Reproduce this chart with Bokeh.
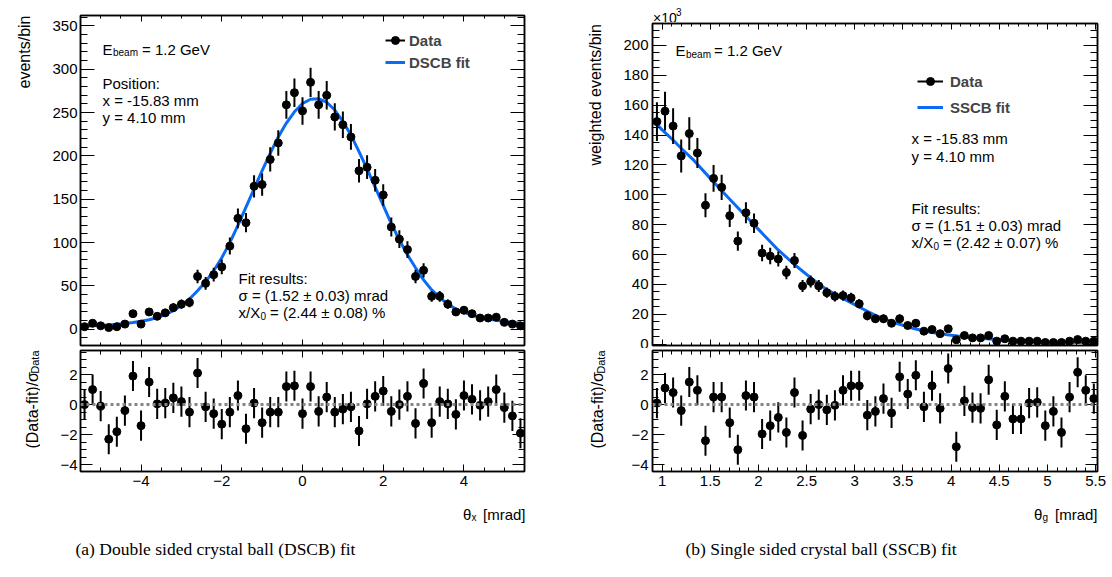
import math
from bokeh.plotting import figure
from bokeh.models import (ColumnDataSource, Range1d, LinearAxis, Label, Legend, LegendItem,
                          Span, SingleIntervalTicker, CustomJSTickFormatter, CustomLabelingPolicy)
from bokeh.layouts import row, column
from bokeh.embed import file_html
from bokeh.resources import INLINE

# ---------------- data: (a) DSCB fit ----------------
theta_x = [-5.4, -5.2, -5.0, -4.8, -4.6, -4.4, -4.2, -4.0, -3.8, -3.6, -3.4, -3.2, -3.0, -2.8,
           -2.6, -2.4, -2.2, -2.0, -1.8, -1.6, -1.4, -1.2, -1.0, -0.8, -0.6, -0.4, -0.2, 0.0,
           0.2, 0.4, 0.6, 0.8, 1.0, 1.2, 1.4, 1.6, 1.8, 2.0, 2.2, 2.4, 2.6, 2.8, 3.0, 3.2,
           3.4, 3.6, 3.8, 4.0, 4.2, 4.4, 4.6, 4.8, 5.0, 5.2, 5.4]
counts_a = [3, 7, 4, 2, 3, 6, 18, 6, 20, 15, 19, 25, 29, 31,
            61, 53, 63, 72, 96, 128, 123, 165, 167, 196, 215, 259, 273, 252,
            285, 259, 270, 245, 236, 222, 183, 187, 172, 155, 118, 104, 92, 61, 68, 38,
            38, 29, 20, 22, 18, 13, 13, 14, 8, 6, 4]
err_a = [1.7, 2.6, 2.0, 1.4, 1.7, 2.4, 4.2, 2.4, 4.5, 3.9, 4.4, 5.0, 5.4, 5.6,
         7.8, 7.3, 7.9, 8.5, 9.8, 11.3, 11.1, 12.8, 12.9, 14.0, 14.7, 16.1, 16.5, 15.9,
         16.9, 16.1, 16.4, 15.7, 15.4, 14.9, 13.5, 13.7, 13.1, 12.4, 10.9, 10.2, 9.6, 7.8, 8.2, 6.2,
         6.2, 5.4, 4.5, 4.7, 4.2, 3.6, 3.6, 3.7, 2.8, 2.4, 2.0]
fit_a_x = [-5.5, -5.4, -5.2, -5.0, -4.8, -4.6, -4.4, -4.2, -4.0, -3.8, -3.6, -3.4, -3.2, -3.0,
           -2.8, -2.6, -2.4, -2.2, -2.0, -1.8, -1.6, -1.4, -1.2, -1.0, -0.8, -0.6, -0.4, -0.2,
           0.0, 0.2, 0.4, 0.6, 0.8, 1.0, 1.2, 1.4, 1.6, 1.8, 2.0, 2.2, 2.4, 2.6, 2.8, 3.0,
           3.2, 3.4, 3.6, 3.8, 4.0, 4.2, 4.4, 4.6, 4.8, 5.0, 5.2, 5.4, 5.5]
fit_a_y = [3.3, 3.5, 4.0, 4.5, 5.1, 5.8, 6.7, 7.8, 9.2, 11.0, 13.5, 17.0, 21.5, 27.5,
           35.0, 44.5, 55.0, 67.5, 82.5, 100.0, 120.0, 141.0, 162.0, 183.0, 203.0, 222.0, 238.0, 251.0,
           260.5, 265.5, 266.0, 262.0, 253.0, 240.0, 224.0, 205.0, 185.0, 164.0, 143.0, 122.0, 103.0, 86.0,
           71.0, 57.0, 45.5, 36.5, 29.0, 23.5, 19.5, 16.3, 13.8, 11.9, 10.3, 9.0, 8.0, 7.1, 6.7]
pull_a = [0.0, 1.0, -0.1, -2.3, -1.8, -0.4, 1.9, -1.4, 1.5, 0.05, 0.1, 0.45, 0.2, -0.5,
          2.1, -0.15, -0.6, -1.3, -0.5, 0.6, -1.6, 0.1, -1.2, -0.5, -0.5, 1.2, 1.25, -0.6,
          1.2, -0.45, 0.5, -0.5, -0.3, -0.15, -1.75, 0.05, 0.55, 0.9, -0.45, 0.0, 0.55, -1.25, 1.4, -1.2,
          0.2, 0.05, -0.65, 0.6, 0.35, -0.05, 0.2, 1.0, -0.2, -0.75, -1.9]

# ---------------- data: (b) SSCB fit ----------------
theta_g = [0.946, 1.030, 1.114, 1.198, 1.282, 1.366, 1.450, 1.534, 1.618, 1.702, 1.786, 1.870,
           1.954, 2.038, 2.122, 2.206, 2.290, 2.374, 2.458, 2.542, 2.626, 2.710, 2.794, 2.878,
           2.962, 3.046, 3.130, 3.214, 3.298, 3.382, 3.466, 3.550, 3.634, 3.718, 3.802, 3.886,
           3.970, 4.054, 4.138, 4.222, 4.306, 4.390, 4.474, 4.558, 4.642, 4.726, 4.810, 4.894,
           4.978, 5.062, 5.146, 5.230, 5.314, 5.398, 5.482]
counts_b = [149, 156, 146, 126, 141, 128, 93, 111, 105, 86, 69, 88,
            81, 61, 59, 57, 48, 56, 39, 42, 39, 34.5, 32, 32.5,
            31, 27, 19, 17, 17, 14, 17, 12.5, 14, 8.7, 9.8, 7,
            10.3, 2.9, 5.8, 4.2, 4.2, 5.8, 2, 3.6, 2, 2, 2, 2,
            1.1, 1.1, 1.1, 2, 3.1, 2, 2]
err_b = [13, 13, 12, 11, 11, 10, 8, 9, 8.5, 7.5, 6.5, 7,
         6.5, 5.5, 5.5, 5, 4.5, 5, 4, 4, 4, 3.5, 3.5, 3.5,
         3.5, 3, 3, 2.8, 2.8, 2.5, 2.8, 2.3, 2.5, 1.8, 2, 1.6,
         1.7, 0.8, 1.3, 1.1, 1.1, 1.3, 0.7, 1, 0.7, 0.7, 0.7, 0.7,
         0.5, 0.5, 0.5, 0.7, 0.9, 0.7, 0.7]
fit_b_x = [0.94, 1.0, 1.1, 1.2, 1.33, 1.5, 1.68, 1.85, 2.02, 2.19, 2.37, 2.54, 2.71, 2.85, 3.0,
           3.1, 3.21, 3.3, 3.44, 3.61, 3.79, 3.96, 4.13, 4.3, 4.48, 4.65, 4.83, 5.0, 5.17, 5.34, 5.48]
fit_b_y = [147.5, 143.5, 137.5, 131.0, 123.0, 111.0, 98.5, 87.0, 75.5, 64.0, 53.5, 44.5, 36.5, 31.5, 26.5,
           23.0, 19.5, 17.0, 13.8, 10.5, 8.0, 6.3, 5.0, 4.0, 3.1, 2.5, 2.0, 1.6, 1.3, 1.1, 1.0]
pull_b = [0.1, 1.1, 0.8, -0.4, 1.5, 0.95, -2.4, 0.5, 0.5, -1.2, -3.0, 0.6,
          0.5, -1.95, -1.4, -0.85, -1.85, 0.8, -2.05, -0.3, 0.0, -0.35, -0.05, 0.95,
          1.25, 1.25, -0.7, -0.45, 0.4, -0.55, 1.85, 0.7, 1.95, -0.15, 1.25, -0.25,
          2.4, -2.8, 0.25, -0.2, -0.25, 1.65, -1.35, 0.55, -0.95, -0.95, 0.1, 0.15,
          -1.4, -0.45, -1.85, 0.5, 2.15, 0.95, 0.4]
pull_err = 1.0

SANS = "Liberation Sans"
SERIF = "Liberation Serif"
BLUE = "#0a6cf5"

FMT_CODE = """
const v = Math.round(tick*1000)/1000;
if (v === 0) { return "0"; }
const s = String(Math.abs(v));
return v < 0 ? "\\u2212" + s : s;
"""
NO_LABELS = """
try { for (let i = 0; i < indices.size; i++) { indices.unset(i) } } catch (e) {}
return indices
"""


def style_axis(ax, tin, tmin, labels, standoff=4):
    ax.major_tick_in = tin
    ax.major_tick_out = 0
    ax.minor_tick_in = tmin
    ax.minor_tick_out = 0
    ax.axis_line_width = 1.5
    ax.axis_line_color = "black"
    ax.major_tick_line_color = "black"
    ax.minor_tick_line_color = "black"
    ax.major_tick_line_width = 1
    ax.minor_tick_line_width = 1
    if labels:
        ax.major_label_text_font = SANS
        ax.major_label_text_font_size = "15px"
        ax.major_label_text_color = "black"
        ax.major_label_standoff = standoff
        ax.formatter = CustomJSTickFormatter(code=FMT_CODE)
    else:
        ax.major_label_text_font_size = "0px"
        ax.major_label_standoff = 0
        ax.formatter = CustomJSTickFormatter(code='return "";')
        ax.major_label_policy = CustomLabelingPolicy(code=NO_LABELS)


def make_panel(width, height, xr, yr, borders, xtick, ytick, xlen, ylen, show_x, ystand=3):
    l, r, t, b = borders
    p = figure(width=width, height=height, x_range=Range1d(*xr), y_range=Range1d(*yr),
               output_backend="svg", toolbar_location=None,
               min_border_left=l, min_border_right=r, min_border_top=t, min_border_bottom=b)
    p.xgrid.visible = False
    p.ygrid.visible = False
    p.outline_line_color = "black"
    p.outline_line_width = 1.5
    p.background_fill_color = "white"
    p.border_fill_color = "white"
    xt = SingleIntervalTicker(interval=xtick[0], num_minor_ticks=xtick[1])
    yt = SingleIntervalTicker(interval=ytick[0], num_minor_ticks=ytick[1])
    bx = p.below[0]
    ly = p.left[0]
    bx.ticker = xt
    ly.ticker = yt
    ax_top = LinearAxis(ticker=xt)
    ax_right = LinearAxis(ticker=yt)
    p.add_layout(ax_top, "above")
    p.add_layout(ax_right, "right")
    style_axis(bx, xlen[0], xlen[1], show_x, standoff=4)
    style_axis(ax_top, xlen[0], xlen[1], False)
    style_axis(ly, ylen[0], ylen[1], True, standoff=ystand)
    style_axis(ax_right, ylen[0], ylen[1], False)
    return p


def make_text_area(x0, y0, x1, y1):
    """A frame-only figure whose data coordinates are the page's pixel coordinates."""
    p = figure(width=int(x1 - x0), height=int(y1 - y0),
               x_range=Range1d(x0, x1), y_range=Range1d(y1, y0),
               output_backend="svg", toolbar_location=None,
               x_axis_location=None, y_axis_location=None, min_border=0)
    p.xgrid.visible = False
    p.ygrid.visible = False
    p.outline_line_color = None
    p.background_fill_color = "white"
    p.border_fill_color = "white"
    return p


def px2data(panel, px, py):
    (fl, ft, fr, fb), (x0, x1), (y0, y1) = panel
    return (x0 + (px - fl) / (fr - fl) * (x1 - x0),
            y1 - (py - ft) / (fb - ft) * (y1 - y0))


def lab(p, panel, px, py, text, size="15px", style="normal", align="left",
        baseline="alphabetic", angle=0.0, font=SANS):
    if panel is None:
        x, y = px, py
    else:
        x, y = px2data(panel, px, py)
    p.add_layout(Label(x=x, y=y, text=text, text_font=font, text_font_size=size,
                       text_font_style=style, text_align=align, text_baseline=baseline,
                       angle=angle, text_color="black"))


def add_data(p, xs, ys, es, size=8):
    src = ColumnDataSource(dict(x=xs, y=ys,
                                lo=[v - e for v, e in zip(ys, es)],
                                hi=[v + e for v, e in zip(ys, es)]))
    seg = p.segment(x0="x", y0="lo", x1="x", y1="hi", source=src,
                    line_color="black", line_width=2)
    pts = p.scatter(x="x", y="y", source=src, size=size, color="black")
    return seg, pts


# ---------------- panel geometry (picture pixel frames) ----------------
XA = (-5.5, 5.5)
YA = (-18.7, 362.1)
XB = (0.9, 5.52)
YB = (-0.9, 214.7)
YP = (-4.45, 3.6)

P_TL = ((80, 15, 524, 345), XA, YA)
P_BL = ((80, 350, 524, 471), XA, YP)
P_TR = ((652, 23, 1097, 345), XB, YB)
P_BR = ((652, 350, 1097, 471), XB, YP)

# ---------------- (a) top ----------------
tl = make_panel(500, 348, XA, YA, (40, 16, 15, 3), (2, 4), (50, 5), (6, 3), (14, 7), False)
fit_a = tl.line(fit_a_x, fit_a_y, line_color=BLUE, line_width=3)
seg_a, pts_a = add_data(tl, theta_x, counts_a, err_a)
leg_a = Legend(items=[LegendItem(label="Data", renderers=[seg_a, pts_a]),
                      LegendItem(label="DSCB fit", renderers=[fit_a])],
               location=(305, 273), glyph_width=20, glyph_height=20, label_height=20,
               label_standoff=4, spacing=2, padding=0, margin=0,
               border_line_alpha=0, background_fill_alpha=0,
               label_text_font=SANS, label_text_font_size="15px", label_text_font_style="bold")
tl.add_layout(leg_a)
lab(tl, P_TL, 102, 48.5, "E")
lab(tl, P_TL, 112.5, 52, "beam", size="10px")
lab(tl, P_TL, 141.5, 48.5, "= 1.2 GeV")
lab(tl, P_TL, 102, 82.5, "Position:")
lab(tl, P_TL, 102, 99.5, "x = -15.83 mm")
lab(tl, P_TL, 102, 116.5, "y = 4.10 mm")
lab(tl, P_TL, 238, 278, "Fit results:")
lab(tl, P_TL, 238, 295, "\u03c3 = (1.52 \u00b1 0.03) mrad")
lab(tl, P_TL, 238, 312, "x/X")
lab(tl, P_TL, 260, 315, "0", size="10px")
lab(tl, P_TL, 269.5, 312, "= (2.44 \u00b1 0.08) %")

# ---------------- (a) bottom ----------------
bl = make_panel(500, 147, XA, YP, (40, 16, 2, 24), (2, 4), (2, 4), (7, 4), (12, 6), True)
bl.add_layout(Span(location=0, dimension="width", line_color="#858585", line_width=3,
                   line_dash="3 3"))
add_data(bl, theta_x, pull_a, [pull_err] * len(pull_a))

# ---------------- (a) texts outside the frames ----------------
ytl = make_text_area(0, 0, 40, 495)
lab(ytl, None, 23.5, 15, "events/bin", size="16px", align="right", angle=math.pi / 2)
lab(ytl, None, 31.5, 371.5, "(Data-fit)/\u03c3", size="16px", align="right", angle=math.pi / 2)
lab(ytl, None, 34.5, 350, "Data", size="11px", align="right", angle=math.pi / 2)

ftl = make_text_area(0, 495, 540, 577)
lab(ftl, None, 462.5, 513.5, "\u03b8", size="15px")
lab(ftl, None, 471, 516.5, "x", size="10px")
lab(ftl, None, 525, 513.5, "[mrad]", size="15px", align="right")
lab(ftl, None, 215, 548, "(a) Double sided crystal ball (DSCB) fit", size="17.5px",
    align="center", baseline="middle", font=SERIF)

# ---------------- (b) top ----------------
tr = make_panel(506, 326, XB, YB, (46, 15, 1, 3), (0.5, 5), (20, 4), (6, 3), (14, 7), False, ystand=4)
fit_b = tr.line(fit_b_x, fit_b_y, line_color=BLUE, line_width=3)
seg_b, pts_b = add_data(tr, theta_g, counts_b, err_b)
leg_b = Legend(items=[LegendItem(label="Data", renderers=[seg_b, pts_b]),
                      LegendItem(label="SSCB fit", renderers=[fit_b])],
               location=(265, 228), glyph_width=26, glyph_height=20, label_height=20,
               label_standoff=7, spacing=6, padding=0, margin=0,
               border_line_alpha=0, background_fill_alpha=0,
               label_text_font=SANS, label_text_font_size="15px", label_text_font_style="bold")
tr.add_layout(leg_b)
lab(tr, P_TR, 675, 50, "E")
lab(tr, P_TR, 685.5, 53.5, "beam", size="10px")
lab(tr, P_TR, 713.5, 50, "= 1.2 GeV")
lab(tr, P_TR, 911, 137.5, "x = -15.83 mm")
lab(tr, P_TR, 911, 156, "y = 4.10 mm")
lab(tr, P_TR, 911, 207.5, "Fit results:")
lab(tr, P_TR, 911, 224.5, "\u03c3 = (1.51 \u00b1 0.03) mrad")
lab(tr, P_TR, 911, 242, "x/X")
lab(tr, P_TR, 933, 245, "0", size="10px")
lab(tr, P_TR, 942.5, 242, "= (2.42 \u00b1 0.07) %")

# ---------------- (b) bottom ----------------
br = make_panel(506, 147, XB, YP, (46, 15, 2, 24), (0.5, 5), (2, 4), (7, 4), (12, 6), True, ystand=4)
br.add_layout(Span(location=0, dimension="width", line_color="#858585", line_width=3,
                   line_dash="3 3"))
add_data(br, theta_g, pull_b, [pull_err] * len(pull_b))

# ---------------- (b) texts outside the frames ----------------
strip = make_text_area(540, 0, 1112, 22)
lab(strip, None, 652.5, 17.5, "\u00d710", size="14px")
lab(strip, None, 675.5, 11, "3", size="10px")

ytr = make_text_area(540, 22, 606, 495)
lab(ytr, None, 594.5, 23.5, "weighted events/bin", size="16px", align="right", angle=math.pi / 2)
lab(ytr, None, 597, 371.5, "(Data-fit)/\u03c3", size="16px", align="right", angle=math.pi / 2)
lab(ytr, None, 600, 350, "Data", size="11px", align="right", angle=math.pi / 2)

ftr = make_text_area(540, 495, 1112, 577)
lab(ftr, None, 1033.5, 513.5, "\u03b8", size="15px")
lab(ftr, None, 1042, 516.5, "g", size="10px")
lab(ftr, None, 1097, 513.5, "[mrad]", size="15px", align="right")
lab(ftr, None, 820.5, 548, "(b) Single sided crystal ball (SSCB) fit", size="17.5px",
    align="center", baseline="middle", font=SERIF)

left = column(row(ytl, column(tl, bl)), ftl)
right = column(strip, row(ytr, column(tr, br)), ftr)
layout = row(left, right)
open("out.html", "w").write(file_html(layout, INLINE))
